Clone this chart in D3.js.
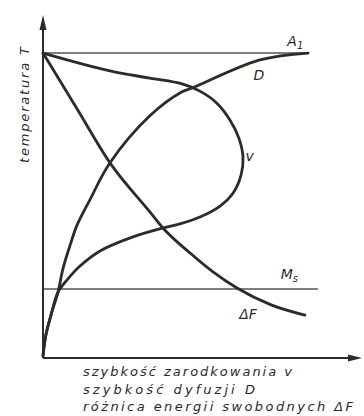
<!DOCTYPE html>
<html>
<head>
<meta charset="utf-8">
<script src="https://cdn.jsdelivr.net/npm/d3@7/dist/d3.min.js"></script>
<style>
  html, body { margin: 0; padding: 0; background: #ffffff; }
  svg { display: block; }
  text { font-family: "DejaVu Sans", sans-serif; font-style: italic; fill: #2a2a2a; }
</style>
</head>
<body>
<svg id="chart" width="364" height="416"></svg>
<script>
// Schematic diagram: temperature (vertical) against rates (horizontal).
// Values are in relative units, 0–100 on both axes.

// Characteristic temperature levels
const levels = [
  { name: "A", sub: "1", t: 88.9, end: 83.1 },
  { name: "M", sub: "s", t: 20.1, end: 86.2 }
];

// Free-energy difference ΔF: largest at low temperature
const deltaF = [
  [0, 88.9], [10.7, 72.6], [21.0, 56.9], [33.5, 42.6], [37.6, 37.9],
  [46.1, 30.6], [53.3, 25.1], [60.8, 20.4], [71.5, 15.5], [82.1, 12.5]
];

// Diffusion rate D: grows with temperature
const diffusion = [
  [0, 0.6], [0.9, 6.7], [2.5, 12.5], [4.7, 19.2], [6.3, 26.2], [8.5, 32.9],
  [10.7, 38.8], [14.7, 46.1], [21.0, 56.9], [33.5, 70.6], [43.6, 77.6],
  [46.7, 78.7], [68.0, 86.9], [83.1, 88.9]
];

// Nucleation rate v: C-shaped, maximum at an intermediate temperature
const nucleation = [
  [0, 88.9], [21.0, 83.7], [33.5, 81.6], [43.6, 79.9], [49.2, 77.8],
  [54.5, 74.3], [58.6, 69.4], [61.4, 64.1], [62.7, 58.6], [62.1, 53.4],
  [59.6, 48.1], [55.5, 44.3], [49.2, 41.1], [42.9, 39.1], [37.6, 37.9],
  [28.2, 35.3], [17.9, 31.2], [11.6, 26.8], [7.5, 22.7], [4.7, 19.2],
  [2.5, 12.5], [0.9, 6.7], [0, 0.6]
];

const curveLabels = [
  { text: "D", x: 66.0, t: 81.0 },
  { text: "v", x: 63.5, t: 57.5 },
  { text: "ΔF", x: 61.5, t: 11.5 }
];

const axisLabelY = "temperatura T";
const axisLabelX = [
  "szybkość zarodkowania v",
  "szybkość dyfuzji D",
  "różnica energii swobodnych ΔF"
];

const svg = d3.select("#chart");
const x = d3.scaleLinear().domain([0, 100]).range([43, 362]);
const y = d3.scaleLinear().domain([0, 100]).range([358, 15]);

const ink = "#2b2b2b";

// Reference temperature lines
svg.selectAll("line.level")
  .data(levels)
  .join("line")
  .attr("class", "level")
  .attr("x1", x(0)).attr("x2", d => x(d.end))
  .attr("y1", d => y(d.t)).attr("y2", d => y(d.t))
  .attr("stroke", "#555").attr("stroke-width", 1.4);

// Curves
const line = d3.line().x(d => x(d[0])).y(d => y(d[1]));
const curves = [
  { pts: deltaF, curve: d3.curveMonotoneX },
  { pts: diffusion, curve: d3.curveCatmullRom.alpha(0.5) },
  { pts: nucleation, curve: d3.curveCatmullRom.alpha(0.5) }
];
svg.selectAll("path.curve")
  .data(curves)
  .join("path")
  .attr("class", "curve")
  .attr("d", d => line.curve(d.curve)(d.pts))
  .attr("fill", "none")
  .attr("stroke", ink)
  .attr("stroke-width", 2.8)
  .attr("stroke-linecap", "round")
  .attr("stroke-linejoin", "round");

// Axes with arrowheads
svg.append("line")
  .attr("x1", x(0)).attr("x2", x(0))
  .attr("y1", y(0)).attr("y2", y(100) + 12)
  .attr("stroke", ink).attr("stroke-width", 2);
svg.append("line")
  .attr("x1", x(0)).attr("x2", x(100) - 10)
  .attr("y1", y(0)).attr("y2", y(0))
  .attr("stroke", ink).attr("stroke-width", 2);
svg.append("path")
  .attr("d", `M${x(0)},${y(100)} L${x(0) - 3.5},${y(100) + 15} L${x(0) + 3.5},${y(100) + 15} Z`)
  .attr("fill", ink);
svg.append("path")
  .attr("d", `M${x(100)},${y(0)} L${x(100) - 14},${y(0) - 3.5} L${x(100) - 14},${y(0) + 3.5} Z`)
  .attr("fill", ink);

// Level labels with subscripts
const lvlPos = { A: [76.6, 91.0], M: [74.5, 23.0] };
levels.forEach(d => {
  const t = svg.append("text")
    .attr("x", x(lvlPos[d.name][0]))
    .attr("y", y(lvlPos[d.name][1]))
    .attr("font-size", 14);
  t.append("tspan").text(d.name);
  t.append("tspan").attr("dy", 3).attr("font-size", 10).text(d.sub);
});

// Curve labels
svg.selectAll("text.clabel")
  .data(curveLabels)
  .join("text")
  .attr("class", "clabel")
  .attr("x", d => x(d.x))
  .attr("y", d => y(d.t))
  .attr("font-size", 14)
  .text(d => d.text);

// Axis titles
svg.append("text")
  .attr("transform", `translate(29,163) rotate(-90)`)
  .attr("font-size", 13)
  .attr("textLength", 116)
  .attr("lengthAdjust", "spacing")
  .text(axisLabelY);

const xEnds = [292, 255, 353];
svg.selectAll("text.xlab")
  .data(axisLabelX)
  .join("text")
  .attr("class", "xlab")
  .attr("x", 83)
  .attr("y", (d, i) => 376 + i * 17.5)
  .attr("font-size", 13)
  .attr("textLength", (d, i) => xEnds[i] - 83)
  .attr("lengthAdjust", "spacing")
  .text(d => d);
</script>
</body>
</html>
